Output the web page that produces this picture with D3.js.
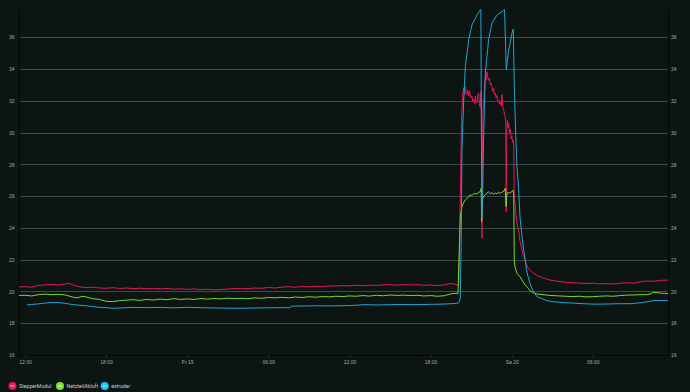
<!DOCTYPE html>
<html>
<head>
<meta charset="utf-8">
<script src="https://cdn.jsdelivr.net/npm/d3@7"></script>
<style>
  html, body { margin: 0; padding: 0; background: #0d1513; }
  svg { display: block; font-family: Roboto, "Noto Sans", sans-serif; }
</style>
</head>
<body>
<div id="chart"></div>
<script>
// Hours since Do 18 12:00, paired with temperature (°C)
const stepperModul = [
  [-0.5, 20.28], [0, 20.3], [0.5, 20.27], [1, 20.38], [1.5, 20.42], [2, 20.44], [2.5, 20.41],
  [3, 20.47], [3.2, 20.52], [3.6, 20.4], [4, 20.3], [4.5, 20.24], [5, 20.27], [5.5, 20.22],
  [6, 20.2], [6.5, 20.24], [7, 20.19], [7.5, 20.22], [8, 20.18], [8.5, 20.21], [9, 20.17],
  [9.5, 20.2], [10, 20.16], [10.5, 20.19], [11, 20.14], [11.5, 20.17], [12, 20.13], [12.5, 20.16],
  [13, 20.12], [13.5, 20.14], [14, 20.1], [14.5, 20.13], [15, 20.15], [15.5, 20.18], [16, 20.2],
  [16.5, 20.17], [17, 20.22], [17.5, 20.2], [18, 20.25], [18.5, 20.22], [19, 20.27], [19.5, 20.3],
  [20, 20.27], [20.5, 20.32], [21, 20.29], [21.5, 20.33], [22, 20.3], [22.5, 20.35], [23, 20.34],
  [23.5, 20.37], [24, 20.35], [24.5, 20.39], [25, 20.36], [25.5, 20.4], [26, 20.38], [26.5, 20.42],
  [27, 20.43], [27.5, 20.4], [28, 20.44], [28.5, 20.41], [29, 20.43], [29.5, 20.39], [30, 20.41],
  [30.5, 20.37], [31, 20.42], [31.5, 20.5], [31.8, 20.46], [32.03, 20.4],
  [32.1, 20.6], [32.2, 26.0], [32.28, 30.5], [32.36, 32.3], [32.45, 32.8], [32.52, 32.4],
  [32.57, 32.9], [32.63, 32.5], [32.69, 32.4], [32.75, 32.7], [32.82, 32.3], [32.88, 32.6],
  [32.91, 32.5], [32.98, 32.2], [33.06, 32.3], [33.12, 32.0], [33.19, 32.1], [33.25, 31.8],
  [33.31, 32.3], [33.37, 31.9], [33.43, 31.85], [33.5, 32.4], [33.56, 32.5], [33.62, 31.7],
  [33.68, 31.6], [33.72, 32.6], [33.76, 31.0], [33.8, 23.35], [33.84, 29.0], [33.88, 31.5],
  [33.93, 31.9], [33.99, 32.8], [34.05, 33.5], [34.1, 33.3], [34.17, 33.84], [34.23, 33.5],
  [34.29, 33.3], [34.35, 33.4], [34.42, 33.0], [34.48, 33.1], [34.54, 32.9], [34.6, 32.6],
  [34.66, 32.8], [34.72, 32.4], [34.78, 32.5], [34.85, 32.2], [34.91, 32.35], [34.97, 32.0],
  [35.04, 32.06], [35.1, 31.8], [35.16, 31.95], [35.22, 31.7], [35.28, 32.4], [35.34, 31.6],
  [35.41, 31.4], [35.47, 31.1], [35.52, 31.0], [35.56, 30.6], [35.6, 25.0], [35.63, 30.0],
  [35.68, 30.8], [35.73, 30.3], [35.78, 30.6], [35.84, 30.0], [35.9, 30.2], [35.96, 29.6],
  [36.02, 29.75], [36.07, 29.4], [36.12, 29.5], [36.15, 29.1], [36.19, 25.8], [36.24, 25.6],
  [36.3, 24.9], [36.39, 24.3], [36.51, 23.87], [36.61, 23.2], [36.76, 22.6], [36.88, 22.2],
  [37, 21.9], [37.13, 21.6], [37.35, 21.35], [37.6, 21.15], [37.87, 21.0], [38.1, 20.93],
  [38.5, 20.8], [38.83, 20.72], [39.3, 20.65], [39.8, 20.6], [40, 20.58], [40.5, 20.55],
  [41, 20.53], [41.5, 20.5], [42, 20.52], [42.5, 20.48], [43, 20.5], [43.5, 20.47], [44, 20.52],
  [44.5, 20.55], [45, 20.52], [45.5, 20.6], [46, 20.66], [46.5, 20.64], [47, 20.7], [47.6, 20.72]
];

const netzteilAbluft = [
  [-0.5, 19.75], [0, 19.76], [0.5, 19.72], [1, 19.8], [1.5, 19.83], [2, 19.8], [2.5, 19.82],
  [3, 19.78], [3.5, 19.65], [3.85, 19.6], [4.29, 19.7], [4.59, 19.64], [5, 19.55], [5.5, 19.5],
  [6, 19.38], [6.5, 19.36], [7, 19.42], [7.5, 19.45], [8, 19.48], [8.5, 19.44], [9, 19.5],
  [9.5, 19.46], [10, 19.52], [10.5, 19.48], [11, 19.55], [11.5, 19.5], [12, 19.53], [12.5, 19.5],
  [13, 19.55], [13.5, 19.52], [14, 19.56], [14.5, 19.53], [15, 19.58], [15.5, 19.55], [16, 19.57],
  [16.5, 19.54], [17, 19.6], [17.5, 19.57], [18, 19.62], [18.5, 19.6], [19, 19.63], [19.5, 19.6],
  [20, 19.65], [20.5, 19.62], [21, 19.67], [21.5, 19.64], [22, 19.68], [22.5, 19.66], [23, 19.7],
  [23.5, 19.68], [24, 19.72], [24.5, 19.7], [25, 19.74], [25.5, 19.71], [26, 19.76], [26.5, 19.73],
  [27, 19.78], [27.5, 19.75], [28, 19.77], [28.5, 19.74], [29, 19.76], [29.5, 19.72], [30, 19.74],
  [30.5, 19.7], [31, 19.73], [31.5, 19.85], [31.8, 19.88], [32.03, 19.88],
  [32.12, 22.6], [32.2, 24.7], [32.32, 25.34], [32.45, 25.6], [32.57, 25.76], [32.75, 25.9],
  [32.91, 26.07], [33.06, 26.05], [33.19, 26.15], [33.31, 26.18], [33.43, 26.12], [33.56, 26.25],
  [33.68, 26.28], [33.74, 26.5], [33.78, 24.4], [33.84, 25.8], [33.93, 26.0], [34.05, 26.07],
  [34.17, 26.2], [34.29, 26.28], [34.42, 26.15], [34.54, 26.22], [34.66, 26.12], [34.78, 26.2],
  [34.91, 26.15], [35.04, 26.25], [35.16, 26.18], [35.28, 26.25], [35.41, 26.3], [35.52, 26.5],
  [35.58, 25.34], [35.65, 26.2], [35.78, 26.22], [35.9, 26.2], [36.02, 26.3], [36.07, 26.39],
  [36.15, 26.2], [36.19, 22.0], [36.24, 21.56], [36.39, 21.14], [36.61, 20.93], [36.76, 20.72],
  [37, 20.4], [37.13, 20.3], [37.35, 20.05], [37.6, 19.92], [37.87, 19.84], [38.1, 19.82],
  [38.83, 19.75], [39.5, 19.72], [40, 19.7], [40.5, 19.68], [41, 19.7], [41.5, 19.66], [42, 19.67],
  [42.5, 19.7], [43, 19.72], [43.5, 19.7], [44, 19.74], [44.5, 19.77], [45, 19.78], [45.5, 19.8],
  [46, 19.8], [46.3, 19.85], [46.45, 19.95], [47, 19.9], [47.3, 19.88], [47.6, 19.86]
];

const extruder = [
  [0.15, 19.15], [0.5, 19.18], [1, 19.22], [1.5, 19.27], [1.85, 19.3], [2.5, 19.3], [3, 19.25],
  [3.5, 19.18], [3.85, 19.15], [4.5, 19.1], [5, 19.05], [5.5, 19.0], [6, 18.98], [6.5, 18.94],
  [7, 18.96], [8, 19.0], [9, 18.98], [10, 19.0], [11, 18.97], [12, 19.0], [13, 18.98], [14, 18.96],
  [15, 18.95], [15.9, 18.94], [17, 18.96], [18, 18.97], [19, 18.98], [19.6, 18.98], [19.75, 19.08],
  [20.5, 19.08], [21.5, 19.1], [22.5, 19.09], [23.3, 19.1], [24.2, 19.12], [25.15, 19.17],
  [26, 19.15], [27, 19.17], [28, 19.18], [29, 19.17], [30, 19.19], [30.7, 19.2], [31.3, 19.22],
  [31.95, 19.25], [32.1, 19.3],
  [32.2, 19.6], [32.27, 23.5], [32.32, 28.9], [32.45, 32.06], [32.57, 34.15], [32.82, 35.84],
  [33.06, 36.78], [33.43, 37.41], [33.68, 37.73], [33.72, 37.75], [33.76, 30.0], [33.8, 24.7],
  [33.86, 26.5], [33.93, 30.0], [34.05, 33.74], [34.29, 35.84], [34.54, 36.9], [34.91, 37.4],
  [35.41, 37.7], [35.47, 37.75], [35.6, 33.95], [35.78, 35.2], [36.07, 36.47], [36.12, 36.5],
  [36.19, 33.0], [36.3, 29.8], [36.39, 27.86], [36.51, 26.5], [36.61, 24.7], [36.76, 23.5],
  [36.88, 22.6], [37, 22.0], [37.13, 21.2], [37.35, 20.5], [37.6, 20.0], [37.87, 19.67],
  [38.1, 19.6], [38.6, 19.42], [39, 19.36], [39.8, 19.3], [40.5, 19.27], [41.5, 19.22],
  [42.3, 19.2], [43, 19.21], [44, 19.23], [44.75, 19.23], [45.3, 19.27], [45.7, 19.3],
  [46, 19.35], [46.45, 19.42], [47, 19.43], [47.56, 19.42]
];

const series = [
  { name: 'StepperModul', color: '#e3175a', legendColor: '#ea1760', data: stepperModul },
  { name: 'NetzteilAbluft', color: '#7ad92b', legendColor: '#7ee22e', data: netzteilAbluft },
  { name: 'extruder', color: '#22a4d4', legendColor: '#1fc4f0', data: extruder }
];

const yTicks = [16, 18, 20, 22, 24, 26, 28, 30, 32, 34, 36];
const weekdays = ['So', 'Mo', 'Di', 'Mi', 'Do', 'Fr', 'Sa'];

const WIDTH = 690;
const HEIGHT = 392;
const margin = { top: 8, right: 22, bottom: 37, left: 19 };

const baseTime = new Date(2021, 1, 18, 12, 0);
const HOUR = 3600 * 1000;
const toDate = (h) => new Date(baseTime.getTime() + h * HOUR);

const x = d3
  .scaleTime()
  .domain([toDate(-0.44), toDate(47.56)])
  .range([margin.left, WIDTH - margin.right]);

const y = d3
  .scaleLinear()
  .domain([16, 37.85])
  .range([HEIGHT - margin.bottom, margin.top]);

const svg = d3
  .select('#chart')
  .append('svg')
  .attr('width', WIDTH)
  .attr('height', HEIGHT);

svg.append('rect').attr('width', WIDTH).attr('height', HEIGHT).attr('fill', '#0d1513');

// Horizontal grid lines
svg
  .append('g')
  .selectAll('line')
  .data(yTicks.filter((d) => d > 16))
  .join('line')
  .attr('x1', margin.left)
  .attr('x2', WIDTH - margin.right)
  .attr('y1', (d) => Math.round(y(d)) + 0.5)
  .attr('y2', (d) => Math.round(y(d)) + 0.5)
  .attr('stroke', '#3b4a50')
  .attr('stroke-width', 1);

// Axis tick format: midnight shows weekday and day, otherwise HH:MM
const tickFormat = (d) =>
  d.getHours() === 0 ? `${weekdays[d.getDay()]} ${d.getDate()}` : d3.timeFormat('%H:%M')(d);

const xAxis = svg
  .append('g')
  .attr('transform', `translate(0,${HEIGHT - margin.bottom})`)
  .call(d3.axisBottom(x).ticks(d3.timeHour.every(6)).tickSize(2).tickFormat(tickFormat));

xAxis.select('.domain').attr('stroke', '#030606');
xAxis.selectAll('.tick line').attr('stroke', '#2c3537');
xAxis
  .selectAll('.tick text')
  .attr('fill', '#a3a9ad')
  .attr('font-size', '5px')
  .attr('dy', '0')
  .attr('y', 8.5);

const leftAxis = svg
  .append('g')
  .attr('transform', `translate(${margin.left},0)`)
  .call(d3.axisLeft(y).tickValues(yTicks).tickSize(0).tickPadding(4.5));

const rightAxis = svg
  .append('g')
  .attr('transform', `translate(${WIDTH - margin.right},0)`)
  .call(d3.axisRight(y).tickValues(yTicks).tickSize(0).tickPadding(3));

[leftAxis, rightAxis].forEach((axis) => {
  axis.select('.domain').attr('stroke', '#030606');
  axis.selectAll('.tick text').attr('fill', '#a3a9ad').attr('font-size', '5px');
});

// Series lines
const line = d3
  .line()
  .x((d) => x(toDate(d[0])))
  .y((d) => y(d[1]));

svg
  .append('defs')
  .append('clipPath')
  .attr('id', 'plot-clip')
  .append('rect')
  .attr('x', margin.left)
  .attr('y', margin.top)
  .attr('width', WIDTH - margin.left - margin.right)
  .attr('height', HEIGHT - margin.top - margin.bottom);

svg
  .append('g')
  .attr('clip-path', 'url(#plot-clip)')
  .selectAll('path')
  .data(series)
  .join('path')
  .attr('d', (s) => line(s.data))
  .attr('fill', 'none')
  .attr('stroke', (s) => s.color)
  .attr('stroke-width', 1)
  .attr('stroke-linejoin', 'round');

// Legend
const legendX = [12.5, 60, 104.7];
const legend = svg
  .append('g')
  .selectAll('g')
  .data(series)
  .join('g')
  .attr('transform', (s, i) => `translate(${legendX[i]},386)`);

legend.append('circle').attr('r', 4).attr('fill', (s) => s.legendColor);

legend
  .append('line')
  .attr('x1', -2)
  .attr('x2', 2)
  .attr('stroke', '#f4f4f4')
  .attr('stroke-width', 0.8);

legend
  .append('text')
  .attr('x', 6.5)
  .attr('dy', '0.35em')
  .attr('fill', '#c9cdd0')
  .attr('font-size', '5.2px')
  .text((s) => s.name);
</script>
</body>
</html>
